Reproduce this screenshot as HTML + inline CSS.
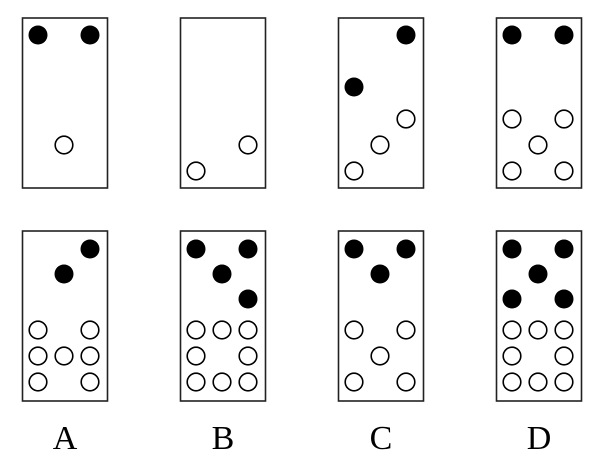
<!DOCTYPE html>
<html><head><meta charset="utf-8"><style>
html,body{margin:0;padding:0;background:#fff;width:600px;height:462px;overflow:hidden}
svg{display:block}
.o{fill:#fff;stroke:#000;stroke-width:1.6}
.f{fill:#000}
rect{fill:none;stroke:#222;stroke-width:1.6}
text{font-family:"Liberation Serif",serif;font-size:34px;text-anchor:middle}
</style></head><body>
<svg width="600" height="462" viewBox="0 0 600 462">
<rect x="22.5" y="18" width="85" height="170"/>
<rect x="180.5" y="18" width="85" height="170"/>
<rect x="338.5" y="18" width="85" height="170"/>
<rect x="496.5" y="18" width="85" height="170"/>
<circle class="f" cx="38" cy="35" r="9.5"/><circle class="f" cx="90" cy="35" r="9.5"/>
<circle class="o" cx="64" cy="145" r="8.8"/>
<circle class="o" cx="248" cy="145" r="8.8"/><circle class="o" cx="196" cy="171" r="8.8"/>
<circle class="f" cx="406" cy="35" r="9.5"/><circle class="f" cx="354" cy="87" r="9.5"/>
<circle class="o" cx="406" cy="119" r="8.8"/><circle class="o" cx="380" cy="145" r="8.8"/><circle class="o" cx="354" cy="171" r="8.8"/>
<circle class="f" cx="512" cy="35" r="9.5"/><circle class="f" cx="564" cy="35" r="9.5"/>
<circle class="o" cx="512" cy="119" r="8.8"/><circle class="o" cx="564" cy="119" r="8.8"/><circle class="o" cx="538" cy="145" r="8.8"/><circle class="o" cx="512" cy="171" r="8.8"/><circle class="o" cx="564" cy="171" r="8.8"/>
<rect x="22.5" y="231" width="85" height="170"/>
<rect x="180.5" y="231" width="85" height="170"/>
<rect x="338.5" y="231" width="85" height="170"/>
<rect x="496.5" y="231" width="85" height="170"/>
<circle class="f" cx="90" cy="249" r="9.5"/><circle class="f" cx="64" cy="274" r="9.5"/>
<circle class="o" cx="38" cy="330" r="8.8"/><circle class="o" cx="90" cy="330" r="8.8"/>
<circle class="o" cx="38" cy="356" r="8.8"/><circle class="o" cx="64" cy="356" r="8.8"/><circle class="o" cx="90" cy="356" r="8.8"/>
<circle class="o" cx="38" cy="382" r="8.8"/><circle class="o" cx="90" cy="382" r="8.8"/>
<circle class="f" cx="196" cy="249" r="9.5"/><circle class="f" cx="248" cy="249" r="9.5"/><circle class="f" cx="222" cy="274" r="9.5"/><circle class="f" cx="248" cy="299" r="9.5"/>
<circle class="o" cx="196" cy="330" r="8.8"/><circle class="o" cx="222" cy="330" r="8.8"/><circle class="o" cx="248" cy="330" r="8.8"/>
<circle class="o" cx="196" cy="356" r="8.8"/><circle class="o" cx="248" cy="356" r="8.8"/>
<circle class="o" cx="196" cy="382" r="8.8"/><circle class="o" cx="222" cy="382" r="8.8"/><circle class="o" cx="248" cy="382" r="8.8"/>
<circle class="f" cx="354" cy="249" r="9.5"/><circle class="f" cx="406" cy="249" r="9.5"/><circle class="f" cx="380" cy="274" r="9.5"/>
<circle class="o" cx="354" cy="330" r="8.8"/><circle class="o" cx="406" cy="330" r="8.8"/>
<circle class="o" cx="380" cy="356" r="8.8"/>
<circle class="o" cx="354" cy="382" r="8.8"/><circle class="o" cx="406" cy="382" r="8.8"/>
<circle class="f" cx="512" cy="249" r="9.5"/><circle class="f" cx="564" cy="249" r="9.5"/><circle class="f" cx="538" cy="274" r="9.5"/><circle class="f" cx="512" cy="299" r="9.5"/><circle class="f" cx="564" cy="299" r="9.5"/>
<circle class="o" cx="512" cy="330" r="8.8"/><circle class="o" cx="538" cy="330" r="8.8"/><circle class="o" cx="564" cy="330" r="8.8"/>
<circle class="o" cx="512" cy="356" r="8.8"/><circle class="o" cx="564" cy="356" r="8.8"/>
<circle class="o" cx="512" cy="382" r="8.8"/><circle class="o" cx="538" cy="382" r="8.8"/><circle class="o" cx="564" cy="382" r="8.8"/>
<text x="65" y="449">A</text>
<text x="223" y="449">B</text>
<text x="381" y="449">C</text>
<text x="539" y="449">D</text>
</svg>
</body></html>
